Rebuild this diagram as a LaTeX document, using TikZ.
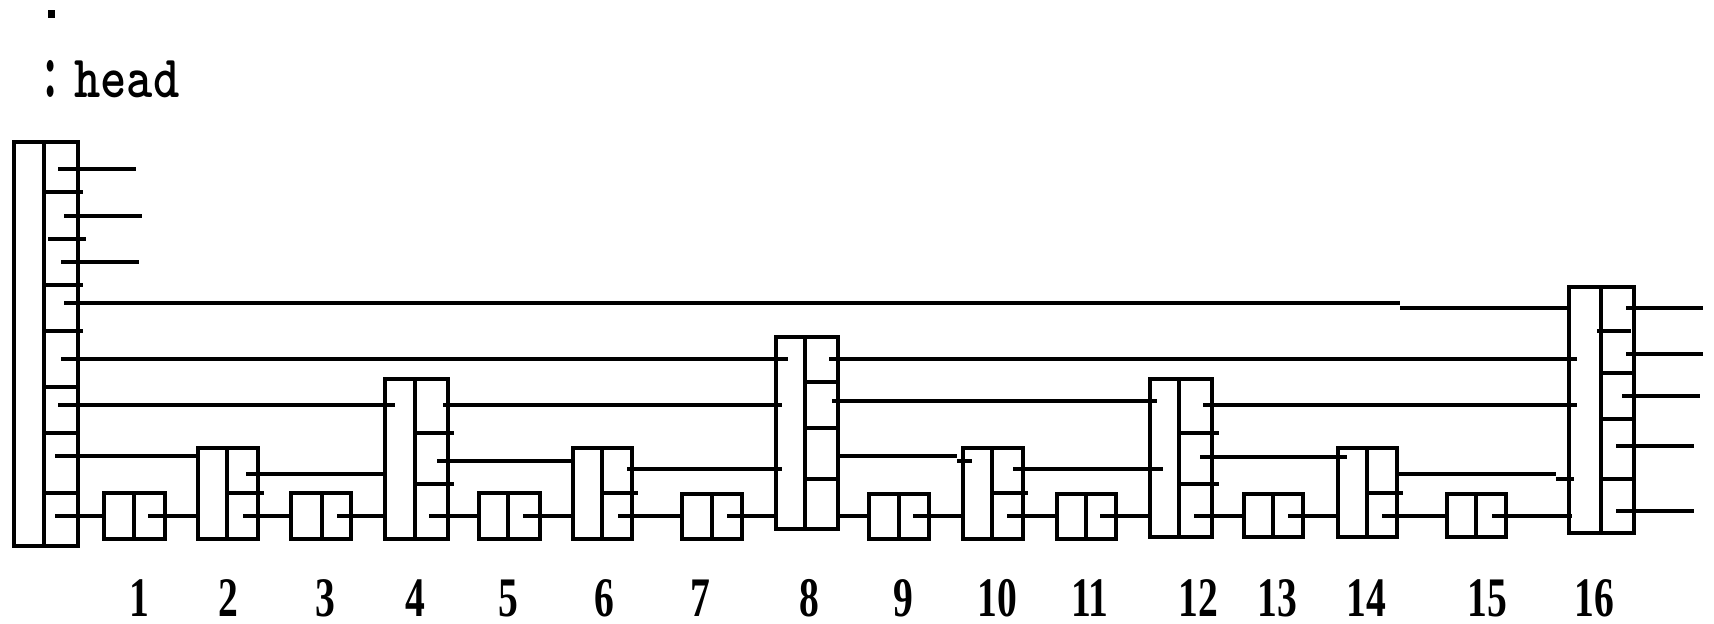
\documentclass[tikz,border=0pt]{standalone}
\usepackage{fontspec}
\newfontfamily\numfont{Liberation Serif}
\tikzset{
  boxnode/.style={draw, rectangle, line width=2pt, inner sep=0pt, outer sep=0pt},
  boxline/.style={line width=2pt},
  ptr/.style={line width=2pt},
  num/.style={anchor=base, inner sep=0pt, font=\numfont\bfseries\fontsize{18pt}{18pt}\selectfont},
  lbl/.style={inner sep=0pt, font=\ttfamily\bfseries\fontsize{25pt}{25pt}\selectfont}
}
\newcommand\skipbox[6]{%
  \node[boxnode, minimum width={(#4-#2)*0.5pt}, minimum height={(#5-#3)*0.5pt}] (#1) at ({(#2+#4)/2},{(#3+#5)/2}) {};
  \draw[boxline] (#6,#3) -- (#6,#5);
}
\begin{document}
\begin{tikzpicture}[x=0.5pt,y=-0.5pt]
\useasboundingbox (0,0) rectangle (1714,623);
% label
\fill (48,10) rectangle (55,18);
\node[lbl, anchor=base] (colon) at (51,97) {\scalebox{1}[1.7]{:}};
\node[lbl, anchor=base west] (head) at (74,97) {\scalebox{1}[1.2]{head}};
% boxes
\skipbox{h}{14}{142}{78}{546}{44}
\skipbox{b1}{104}{493}{165}{539}{134}
\skipbox{b2}{198}{448}{258}{539}{227}
\skipbox{b3}{291}{493}{351}{539}{322}
\skipbox{b4}{385}{379}{448}{539}{415}
\skipbox{b5}{479}{493}{540}{539}{508}
\skipbox{b6}{573}{448}{632}{539}{602}
\skipbox{b7}{682}{494}{742}{539}{712}
\skipbox{b8}{776}{337}{838}{529}{805}
\skipbox{b9}{869}{494}{929}{539}{899}
\skipbox{b10}{963}{448}{1023}{539}{992}
\skipbox{b11}{1057}{494}{1116}{539}{1086}
\skipbox{b12}{1150}{379}{1212}{537}{1179}
\skipbox{b13}{1244}{494}{1303}{537}{1273}
\skipbox{b14}{1338}{448}{1397}{537}{1367}
\skipbox{b15}{1447}{494}{1506}{537}{1476}
\skipbox{b16}{1569}{287}{1634}{533}{1601}
% separators
\foreach \y/\a/\b in {192/44/83, 239/48/86, 285/44/83, 331/44/83, 387/44/78, 433/44/78, 493/44/78,
  493/227/264, 433/415/454, 484/415/454, 493/602/638, 382/805/838, 428/805/838, 479/805/838,
  493/992/1028, 433/1179/1219, 484/1179/1219, 493/1367/1403,
  331/1597/1631, 373/1601/1634, 419/1601/1634, 479/1601/1634}
  \draw[boxline] (\a,\y) -- (\b,\y);
% pointers
\foreach \y/\a/\b in {169/58/136, 216/64/142, 262/61/139, 303/64/1400, 308/1400/1569,
  359/61/788, 405/58/395, 456/55/198, 516/55/104,
  516/148/198,
  474/246/385, 516/243/291,
  516/337/385,
  405/443/782, 461/437/573, 516/429/479,
  516/523/573,
  469/627/782, 516/618/682,
  516/727/776,
  359/829/1577, 401/832/1157, 456/836/957, 461/957/972, 516/836/869,
  516/913/963,
  469/1013/1163, 516/1007/1057,
  516/1100/1150,
  405/1203/1577, 457/1200/1347, 516/1194/1244,
  516/1288/1338,
  474/1399/1556, 479/1556/1574, 516/1382/1447,
  516/1492/1572,
  308/1626/1703, 354/1626/1703, 396/1622/1700, 446/1616/1694, 511/1616/1694}
  \draw[ptr] (\a,\y) -- (\b,\y);
% numbers
\foreach \x/\t in {139/1, 228/2, 325/3, 415/4, 508/5, 604/6, 700/7, 809/8, 903/9, 997/10,
  1090/11, 1198/12, 1277/13, 1366/14, 1487/15, 1594/16}
  \node[num] (n\t) at (\x,616) {\scalebox{1.1}[1.55]{\t}};
\end{tikzpicture}
\end{document}
